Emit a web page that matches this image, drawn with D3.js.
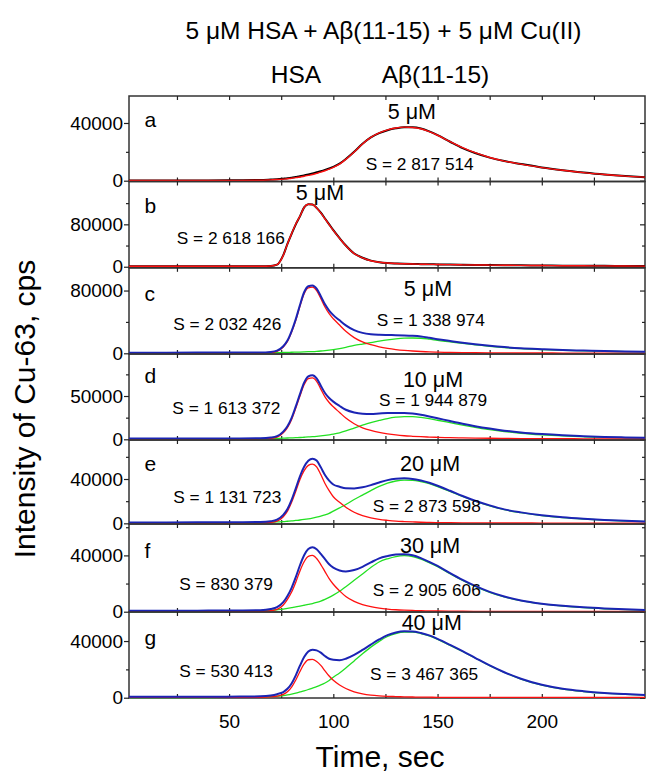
<!DOCTYPE html>
<html>
<head>
<meta charset="utf-8">
<script src="https://cdn.jsdelivr.net/npm/d3@7"></script>
<style>
  body { margin: 0; background: #fff; }
  svg { display: block; font-family: "Liberation Sans", Arial, sans-serif; }
</style>
</head>
<body>
<svg id="chart" width="648" height="775"></svg>
<script>
// Elution time grid, s
const time = [2, 20, 40, 55, 65, 70, 73, 76, 78, 80, 82, 84, 86, 88, 90, 92, 94, 96, 98, 100,
  103, 106, 110, 114, 118, 122, 126, 130, 134, 138, 142, 146, 150, 156, 162, 168, 175, 182, 190, 200,
  210, 220, 230, 240, 249.5];

// Cu-63 intensity, thousands of cps
// (a) Aβ(11-15) + Cu(II): measured trace and fitted peak
const aMeasured = [0.2, 0.2, 0.2, 0.3, 0.5, 0.8, 1.0, 1.4, 1.7, 2.1, 2.6, 3.1, 3.7, 4.3, 5.0, 5.8, 6.6, 7.5, 8.5, 9.6,
  11.8, 15.0, 20.0, 25.6, 30.0, 33.0, 35.0, 36.3, 37.0, 37.0, 36.2, 34.2, 31.6, 27.0, 22.6, 19.2, 16.0, 13.6, 11.6, 9.2,
  7.3, 5.7, 4.3, 3.2, 2.4];
const aFit = [0.1, 0.1, 0.1, 0.2, 0.3, 0.6, 0.8, 1.1, 1.4, 1.7, 2.1, 2.6, 3.1, 3.7, 4.3, 5.1, 5.9, 6.9, 8.0, 9.2,
  11.5, 14.8, 19.9, 25.5, 30.0, 33.1, 35.2, 36.5, 37.1, 36.9, 36.0, 34.0, 31.5, 27.1, 22.9, 19.4, 16.1, 13.6, 11.5, 9.1,
  7.2, 5.6, 4.3, 3.2, 2.5];

// (b) HSA + Cu(II): measured trace and fitted peak
const bMeasured = [1.0, 1.0, 1.0, 1.0, 1.1, 1.6, 4.0, 22, 43, 62, 80, 95, 112, 118, 117.5, 111, 102, 91, 80, 69,
  54, 40, 25, 17, 11.5, 8.5, 7.0, 6.2, 5.6, 5.2, 4.9, 4.6, 4.4, 4.0, 3.7, 3.5, 3.2, 3.0, 2.7, 2.4,
  2.1, 1.9, 1.7, 1.5, 1.3];
const bFit = [0.8, 0.8, 0.8, 0.8, 0.9, 1.4, 3.8, 21.5, 43, 62.5, 80.5, 95.5, 112, 118, 117.5, 111, 101.5, 90.5, 79.5, 68.5,
  53.5, 39.5, 24.8, 16.8, 11.3, 8.4, 7.0, 6.1, 5.5, 5.1, 4.8, 4.5, 4.3, 3.9, 3.6, 3.4, 3.1, 2.9, 2.6, 2.3,
  2.0, 1.8, 1.6, 1.4, 1.2];

// (c) 5 µM Aβ(11-15): total trace, HSA component, Aβ component
const cTotal = [0.8, 0.8, 0.9, 1.0, 1.0, 1.7, 3.4, 9.0, 16.2, 28.3, 43.5, 61.6, 77.8, 85.5, 86.5, 82.5, 72.9, 62.4, 54.5, 48.7,
  42.0, 35.6, 29.5, 26.0, 24.3, 23.6, 23.3, 23.1, 22.8, 22.3, 21.4, 19.8, 18.0, 15.7, 13.5, 11.6, 9.6, 7.9, 6.4, 5.2,
  4.2, 3.5, 2.9, 2.3, 1.9];
const cHSA = [0.3, 0.3, 0.3, 0.3, 0.4, 1.0, 2.5, 8, 15, 27, 42, 60, 76, 83.5, 84.3, 80, 70, 59, 50.5, 44,
  36, 28, 20, 14.5, 11, 8.3, 6.3, 4.8, 3.7, 2.9, 2.3, 1.8, 1.5, 1.1, 0.9, 0.7, 0.6, 0.5, 0.4, 0.4,
  0.3, 0.3, 0.3, 0.2, 0.2];
const cAbeta = [0, 0.05, 0.1, 0.2, 0.5, 0.7, 0.9, 1.05, 1.2, 1.3, 1.45, 1.6, 1.8, 2.0, 2.2, 2.5, 2.9, 3.4, 4.0, 4.7,
  6.0, 7.6, 10.0, 11.8, 13.5, 15.5, 17.2, 18.5, 19.3, 19.5, 19.2, 18.0, 16.5, 14.6, 12.6, 10.9, 9.0, 7.4, 6.0, 4.8,
  3.9, 3.2, 2.6, 2.1, 1.7];

// (d) 10 µM Aβ(11-15)
const dTotal = [0.8, 0.8, 0.9, 1.0, 1.2, 2.0, 3.6, 8.9, 15.1, 24.8, 38.0, 52.2, 65.4, 72.7, 74.0, 70.4, 61.9, 53.5, 47.7, 43.5,
  38.5, 34.1, 31.0, 29.6, 29.3, 29.8, 30.3, 30.5, 30.4, 29.7, 28.3, 26.4, 24.3, 21.1, 18.0, 15.2, 12.4, 10.0, 7.9, 6.0,
  4.6, 3.6, 2.8, 2.2, 1.8];
const dHSA = [0.3, 0.3, 0.3, 0.3, 0.4, 1.0, 2.4, 7.5, 13.5, 23.0, 36.0, 50.0, 63.0, 70.0, 71.0, 67.0, 58.0, 49.0, 42.5, 37.5,
  31.0, 24.5, 18.0, 13.3, 10.2, 8.0, 6.3, 5.0, 4.1, 3.5, 3.0, 2.6, 2.3, 1.9, 1.6, 1.4, 1.2, 1.0, 0.9, 0.8,
  0.7, 0.6, 0.5, 0.4, 0.4];
const dAbeta = [0, 0.05, 0.1, 0.3, 0.6, 0.9, 1.1, 1.3, 1.5, 1.7, 1.9, 2.1, 2.4, 2.7, 3.0, 3.4, 3.9, 4.5, 5.2, 6.0,
  7.5, 9.6, 13.0, 16.3, 19.4, 21.8, 24.0, 25.5, 26.3, 26.2, 25.3, 23.8, 22.0, 19.2, 16.4, 13.8, 11.2, 9.0, 7.0, 5.2,
  3.9, 3.0, 2.3, 1.8, 1.4];

// (e) 20 µM Aβ(11-15)
const eTotal = [0.8, 0.8, 0.9, 1.0, 1.2, 1.9, 3.3, 7.6, 12.9, 21.2, 31.6, 42.5, 51.0, 56.4, 58.3, 56.6, 50.5, 43.6, 38.5, 35.0,
  33.0, 31.6, 31.5, 32.5, 34.5, 36.9, 39.0, 40.2, 40.6, 40.1, 38.6, 36.6, 33.9, 29.4, 24.7, 20.4, 16.2, 12.6, 9.9, 7.3,
  5.4, 4.1, 3.1, 2.3, 1.7];
const eHSA = [0.3, 0.3, 0.3, 0.3, 0.4, 0.9, 2.0, 6.0, 11.0, 19.0, 29.0, 39.5, 47.5, 52.3, 53.5, 51.0, 44.0, 36.0, 29.5, 24.0,
  19.0, 14.6, 10.0, 7.0, 5.0, 3.6, 2.7, 2.0, 1.6, 1.3, 1.0, 0.8, 0.7, 0.6, 0.5, 0.4, 0.35, 0.3, 0.3, 0.25,
  0.2, 0.2, 0.2, 0.2, 0.2];
const eAbeta = [0, 0.05, 0.1, 0.3, 0.7, 1.0, 1.3, 1.6, 1.9, 2.2, 2.6, 3.0, 3.5, 4.1, 4.8, 5.6, 6.5, 7.6, 9.0, 11.0,
  14.0, 17.0, 21.5, 25.5, 29.5, 33.3, 36.3, 38.2, 39.0, 38.8, 37.6, 35.8, 33.2, 28.8, 24.2, 20.0, 15.8, 12.3, 9.6, 7.0,
  5.2, 3.9, 2.9, 2.1, 1.5];

// (f) 30 µM Aβ(11-15)
const fTotal = [0.7, 0.7, 0.8, 0.9, 1.1, 1.9, 3.2, 6.8, 11.2, 17.0, 24.5, 33.0, 40.1, 44.5, 45.8, 44.4, 41.1, 37.3, 33.7, 31.3,
  29.3, 28.6, 29.6, 31.9, 35.0, 37.9, 39.5, 40.6, 40.9, 40.1, 38.1, 35.4, 32.5, 27.4, 22.6, 18.3, 14.1, 10.8, 8.0, 5.7,
  4.2, 3.1, 2.3, 1.7, 1.3];
const fHSA = [0.2, 0.2, 0.2, 0.2, 0.3, 0.7, 1.6, 4.8, 8.8, 14.0, 21.0, 29.0, 35.5, 39.3, 40.0, 37.8, 33.5, 28.5, 23.5, 19.5,
  14.8, 10.8, 7.3, 5.1, 3.6, 2.6, 1.9, 1.4, 1.1, 0.9, 0.7, 0.6, 0.5, 0.4, 0.35, 0.3, 0.3, 0.25, 0.2, 0.2,
  0.2, 0.2, 0.2, 0.2, 0.2];
const fAbeta = [0, 0.05, 0.1, 0.3, 0.6, 1.0, 1.4, 1.9, 2.4, 2.9, 3.4, 4.0, 4.6, 5.2, 5.8, 6.6, 7.6, 8.8, 10.2, 11.8,
  14.5, 17.8, 22.3, 26.8, 31.4, 35.3, 37.6, 39.2, 39.8, 39.2, 37.4, 34.8, 32.0, 27.0, 22.2, 18.0, 13.8, 10.5, 7.8, 5.5,
  4.0, 2.9, 2.1, 1.5, 1.1];

// (g) 40 µM Aβ(11-15)
const gTotal = [0.6, 0.6, 0.7, 0.8, 1.0, 1.6, 2.5, 4.0, 6.3, 10.1, 15.8, 22.6, 28.7, 32.6, 33.9, 33.4, 31.8, 29.4, 27.5, 26.8,
  26.5, 27.5, 30.2, 33.7, 37.5, 41.1, 44.2, 46.1, 46.9, 46.8, 45.7, 44.0, 41.5, 37.3, 32.9, 28.2, 22.8, 18.0, 13.4, 9.1,
  6.3, 4.6, 3.4, 2.6, 2.0];
const gHSA = [0.2, 0.2, 0.2, 0.2, 0.3, 0.6, 1.2, 2.3, 4.2, 7.5, 12.5, 18.5, 23.8, 26.8, 27.1, 25.6, 22.8, 19.0, 15.3, 12.3,
  9.0, 6.5, 4.2, 2.7, 1.8, 1.3, 1.0, 0.8, 0.6, 0.5, 0.4, 0.35, 0.3, 0.3, 0.25, 0.2, 0.2, 0.2, 0.2, 0.2,
  0.2, 0.2, 0.2, 0.2, 0.2];
const gAbeta = [0, 0.05, 0.15, 0.3, 0.5, 0.8, 1.1, 1.5, 2.0, 2.6, 3.3, 4.1, 4.9, 5.8, 6.8, 7.8, 9.0, 10.4, 12.2, 14.5,
  17.5, 21.0, 26.0, 31.0, 35.7, 39.8, 43.2, 45.3, 46.3, 46.3, 45.3, 43.6, 41.2, 37.0, 32.6, 28.0, 22.6, 17.8, 13.2, 8.9,
  6.1, 4.4, 3.2, 2.4, 1.8];

// Panel letters, Aβ concentrations and integrated peak areas
const panelLetters = ["a", "b", "c", "d", "e", "f", "g"];
const concentrations = ["5 μM", "5 μM", "5 μM", "10 μM", "20 μM", "30 μM", "40 μM"];
const areasHSA = [null, "S = 2 618 166", "S = 2 032 426", "S = 1 613 372", "S = 1 131 723", "S = 830 379", "S = 530 413"];
const areasAbeta = ["S = 2 817 514", null, "S = 1 338 974", "S = 1 944 879", "S = 2 873 598", "S = 2 905 606", "S = 3 467 365"];

// Y axis tick labels for each panel (cps)
const yMajorTicks = [[0, 40000], [0, 80000], [0, 80000], [0, 50000], [0, 40000], [0, 40000], [0, 40000]];
const yMinorTicks = [[20000], [40000, 120000], [40000], [25000, 75000], [20000, 60000], [20000, 60000], [20000]];
const xMajorTicks = [50, 100, 150, 200];
const xMinorTicks = [25, 75, 125, 175, 225];

// ---------- layout ----------
const W = 648, H = 775;
const plotLeft = 129, plotRight = 645;
const panelEdges = [96, 181.5, 267.8, 354, 440, 524, 612, 698];
const yDomains = [[-550, 58700], [-2000, 160800], [-900, 109000], [-800, 98500], [-600, 75200], [-200, 62300], [-200, 60500]];

// text anchors in data units: [time, kcps]
const letterAnchors = [[9.4, 37], [9.4, 101.9], [9.4, 67.2], [9.4, 64.7], [9.4, 47.5], [9.4, 37.9], [9.4, 37.2]];
const concAnchors = [[137.7, 42.6], [93.6, 125.8], [145.4, 72.8], [147.8, 60], [146.4, 47.5], [146.4, 41.7], [147.2, 47.8]];
const areaHSAAnchors = [null, [24.9, 42.8], [23.2, 29.8], [22.8, 29.2], [23.2, 18.1], [26.1, 15.4], [26.1, 14.8]];
const areaAbetaAnchors = [[115.5, 7.4], null, [120.8, 35.3], [121.9, 38.1], [118.9, 9.9], [118.9, 11.4], [117.6, 12.5]];

const COLORS = { measured: "#000000", hsa: "#ff1010", abeta: "#22e022", total: "#1b24b4" };

const panelLines = [
  [{ v: aMeasured, c: COLORS.measured, w: 2 }, { v: aFit, c: COLORS.hsa, w: 1.4 }],
  [{ v: bMeasured, c: COLORS.measured, w: 2 }, { v: bFit, c: COLORS.hsa, w: 1.4 }],
  [{ v: cAbeta, c: COLORS.abeta, w: 1.3 }, { v: cHSA, c: COLORS.hsa, w: 1.3 }, { v: cTotal, c: COLORS.total, w: 2 }],
  [{ v: dAbeta, c: COLORS.abeta, w: 1.3 }, { v: dHSA, c: COLORS.hsa, w: 1.3 }, { v: dTotal, c: COLORS.total, w: 2 }],
  [{ v: eAbeta, c: COLORS.abeta, w: 1.3 }, { v: eHSA, c: COLORS.hsa, w: 1.3 }, { v: eTotal, c: COLORS.total, w: 2 }],
  [{ v: fAbeta, c: COLORS.abeta, w: 1.3 }, { v: fHSA, c: COLORS.hsa, w: 1.3 }, { v: fTotal, c: COLORS.total, w: 2 }],
  [{ v: gAbeta, c: COLORS.abeta, w: 1.3 }, { v: gHSA, c: COLORS.hsa, w: 1.3 }, { v: gTotal, c: COLORS.total, w: 2 }]
];

const svg = d3.select("#chart");
const x = d3.scaleLinear().domain([2, 249.5]).range([plotLeft, plotRight]);

function styleAxis(sel, fontSize) {
  sel.select(".domain").remove();
  sel.selectAll(".tick line").attr("stroke", "#222").attr("stroke-width", 1.2);
  sel.selectAll(".tick text").attr("fill", "#000").attr("font-size", fontSize)
    .attr("font-family", "'Liberation Sans', Arial, sans-serif");
}

panelLetters.forEach((letter, i) => {
  const top = panelEdges[i], bottom = panelEdges[i + 1];
  const y = d3.scaleLinear().domain(yDomains[i]).range([bottom, top]);
  const g = svg.append("g").attr("class", "panel panel-" + letter);

  // frame
  g.append("rect")
    .attr("x", plotLeft).attr("y", top)
    .attr("width", plotRight - plotLeft).attr("height", bottom - top)
    .attr("fill", "none").attr("stroke", "#333").attr("stroke-width", 1.5);

  // left axis: labelled majors, outward minors
  g.append("g").attr("transform", `translate(${plotLeft},0)`)
    .call(d3.axisLeft(y).tickValues(yMajorTicks[i]).tickSize(5).tickPadding(1).tickFormat(d3.format("d")))
    .call(s => styleAxis(s, 19));
  g.append("g").attr("transform", `translate(${plotLeft},0)`)
    .call(d3.axisLeft(y).tickValues(yMinorTicks[i]).tickSize(3).tickFormat(""))
    .call(s => styleAxis(s, 19));

  // right axis mirror ticks (inward)
  g.append("g").attr("transform", `translate(${plotRight},0)`)
    .call(d3.axisRight(y).tickValues(yMajorTicks[i]).tickSize(-5).tickFormat(""))
    .call(s => styleAxis(s, 19));
  g.append("g").attr("transform", `translate(${plotRight},0)`)
    .call(d3.axisRight(y).tickValues(yMinorTicks[i]).tickSize(-3).tickFormat(""))
    .call(s => styleAxis(s, 19));

  // top and bottom time ticks (inward)
  g.append("g").attr("transform", `translate(0,${top})`)
    .call(d3.axisTop(x).tickValues(xMajorTicks.concat(xMinorTicks)).tickSize(-4).tickFormat(""))
    .call(s => styleAxis(s, 19));
  const isLast = i === panelLetters.length - 1;
  g.append("g").attr("transform", `translate(0,${bottom})`)
    .call(d3.axisBottom(x).tickValues(xMajorTicks).tickSize(-4).tickPadding(16.5)
      .tickFormat(isLast ? d3.format("d") : ""))
    .call(s => styleAxis(s, 19));
  g.append("g").attr("transform", `translate(0,${bottom})`)
    .call(d3.axisBottom(x).tickValues(xMinorTicks).tickSize(-4).tickFormat(""))
    .call(s => styleAxis(s, 19));

  // traces
  const line = d3.line()
    .x((d, k) => x(time[k]))
    .y(d => y(d * 1000))
    .curve(d3.curveMonotoneX);
  panelLines[i].forEach(series => {
    g.append("path")
      .datum(series.v)
      .attr("d", line)
      .attr("fill", "none")
      .attr("stroke", series.c)
      .attr("stroke-width", series.w)
      .attr("stroke-linejoin", "round");
  });

  // annotations
  const at = (a) => [x(a[0]), y(a[1] * 1000)];
  const [lx, ly] = at(letterAnchors[i]);
  g.append("text").attr("x", lx).attr("y", ly).attr("font-size", 21).text(letter);

  const [cx, cy] = at(concAnchors[i]);
  g.append("text").attr("x", cx).attr("y", cy).attr("font-size", 21.5)
    .attr("text-anchor", "middle").text(concentrations[i]);

  if (areasHSA[i]) {
    const [sx, sy] = at(areaHSAAnchors[i]);
    g.append("text").attr("x", sx).attr("y", sy).attr("font-size", 17.3).text(areasHSA[i]);
  }
  if (areasAbeta[i]) {
    const [sx, sy] = at(areaAbetaAnchors[i]);
    g.append("text").attr("x", sx).attr("y", sy).attr("font-size", 17.3).text(areasAbeta[i]);
  }
});

// titles
svg.append("text").attr("x", 383.5).attr("y", 39).attr("text-anchor", "middle")
  .attr("font-size", 24.5).text("5 μM HSA + Aβ(11-15) + 5 μM Cu(II)");
svg.append("text").attr("x", 296).attr("y", 83).attr("text-anchor", "middle")
  .attr("font-size", 24.5).text("HSA");
svg.append("text").attr("x", 435.5).attr("y", 83).attr("text-anchor", "middle")
  .attr("font-size", 24.5).text("Aβ(11-15)");

// axis titles
svg.append("text").attr("x", 380).attr("y", 767).attr("text-anchor", "middle")
  .attr("font-size", 30).text("Time, sec");
svg.append("text").attr("transform", "translate(35,409) rotate(-90)")
  .attr("text-anchor", "middle").attr("font-size", 30).text("Intensity of Cu-63, cps");
</script>
</body>
</html>
